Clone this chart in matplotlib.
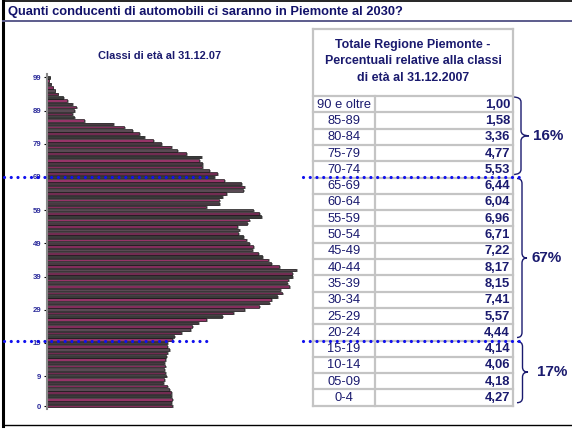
import numpy as np
import matplotlib.pyplot as plt
from matplotlib.path import Path
from matplotlib.patches import PathPatch

plt.rcParams['font.family'] = ['Liberation Sans', 'DejaVu Sans']

# ---- data -------------------------------------------------------------
ages = np.arange(0, 100)
pop = [125, 124, 125, 124, 124, 122, 120, 116, 117, 119,
       118, 117, 118, 117, 118, 119, 120, 122, 120, 120,
       125, 127, 134, 143, 145, 151, 159, 175, 186, 197,
       212, 222, 224, 230, 235, 233, 242, 240, 241, 245,
       245, 249, 232, 224, 221, 215, 211, 205, 206, 202,
       199, 196, 191, 192, 190, 200, 202, 214, 212, 206,
       159, 172, 172, 175, 179, 196, 197, 194, 177, 167,
       170, 162, 155, 155, 152, 154, 139, 130, 124, 114,
       106, 97, 92, 85, 77, 66, 37, 27, 25, 27,
       29, 25, 20, 16, 11, 8, 6, 4, 2, 3]
age_ticks = [0, 9, 19, 29, 39, 49, 59, 69, 79, 89, 99]

classes = ['90 e oltre', '85-89', '80-84', '75-79', '70-74',
           '65-69', '60-64', '55-59', '50-54', '45-49',
           '40-44', '35-39', '30-34', '25-29', '20-24',
           '15-19', '10-14', '05-09', '0-4']
perc = [1.00, 1.58, 3.36, 4.77, 5.53,
        6.44, 6.04, 6.96, 6.71, 7.22,
        8.17, 8.15, 7.41, 5.57, 4.44,
        4.14, 4.06, 4.18, 4.27]
groups = ['16%', '67%', '17%']
group_rows = [(0, 4), (5, 14), (15, 18)]

navy = '#1a1a6e'
W, H = 572, 430

fig = plt.figure(figsize=(W / 100, H / 100), dpi=100)
bg = fig.add_axes([0, 0, 1, 1])
bg.set_xlim(0, W)
bg.set_ylim(H, 0)
bg.axis('off')

# frame and title
bg.plot([3, 3], [0, 426], color='black', lw=2.2)
bg.plot([3, W], [0.8, 0.8], color='black', lw=1.2)
bg.plot([3, W], [425, 425], color='black', lw=1.0)
bg.plot([3, W], [21, 21], color='#5c5c8c', lw=1.4)
bg.text(8, 11.5, 'Quanti conducenti di automobili ci saranno in Piemonte al 2030?',
        fontsize=9.3, fontweight='bold', color='#12126a', va='center', ha='left')

# pyramid title
bg.text(160, 56, 'Classi di età al 31.12.07', fontsize=7.9, fontweight='bold',
        color=navy, ha='center', va='center')

# ---- pyramid ----------------------------------------------------------
y0, y1 = 408.7, 74.0
pa = fig.add_axes([47 / W, 1 - y0 / H, 260 / W, (y0 - y1) / H])
pa.set_xlim(0, 260)
pa.set_ylim(-0.8, 100)
pa.patch.set_visible(False)
shades = ['#832d5c', '#4a3842', '#963468', '#3a3a3a', '#722c52', '#5a4a54']
cols = [shades[i % len(shades)] for i in range(len(ages))]
pa.barh(ages - 0.22, np.array(pop) + 1.5, height=0.8, color='#a8a8a8', zorder=1)
pa.barh(ages, pop, height=0.78, color=cols, edgecolor='#111111', lw=0.45, zorder=2)
for s in ['top', 'right', 'bottom']:
    pa.spines[s].set_visible(False)
pa.spines['left'].set_color('#8a8a8a')
pa.spines['left'].set_linewidth(1.5)
pa.set_xticks([])
pa.set_yticks(age_ticks)
pa.set_yticklabels([str(a) for a in age_ticks], fontsize=5.6, fontweight='bold', color='#2a2a9a')
pa.tick_params(axis='y', length=2.5, width=0.8, pad=1.5)

# ---- table ------------------------------------------------------------
tl, tr, tc = 313, 513, 375
top, row0, rh = 29, 96, 16.3
grey = '#c4c4c4'
nrows = len(classes)
bottom = row0 + nrows * rh
bg.plot([tl, tr], [top, top], color=grey, lw=1.6)
bg.plot([tl, tl], [top, bottom], color=grey, lw=1.6)
bg.plot([tr, tr], [top, bottom], color=grey, lw=1.6)
bg.plot([tc, tc], [row0, bottom], color=grey, lw=1.6)
for i in range(nrows + 1):
    bg.plot([tl, tr], [row0 + i * rh] * 2, color=grey, lw=1.6)
bg.text((tl + tr) / 2, 61.5,
        'Totale Regione Piemonte -\nPercentuali relative alla classi\ndi età al 31.12.2007',
        fontsize=8.9, fontweight='bold', color=navy, ha='center', va='center',
        linespacing=1.45)
for i, (c, p) in enumerate(zip(classes, perc)):
    yc = row0 + (i + 0.5) * rh + 0.5
    bg.text((tl + tc) / 2, yc, c, fontsize=9.3, color=navy, ha='center', va='center')
    bg.text(tr - 3, yc, f'{p:.2f}'.replace('.', ','), fontsize=9.4, fontweight='bold',
            color=navy, ha='right', va='center')


def brace(ax, x, ya, yb, w, r=5):
    ym = (ya + yb) / 2
    xm = x + w / 2
    verts = [(x, ya), (xm, ya), (xm, ya + r), (xm, ym - r), (xm, ym), (x + w, ym),
             (xm, ym), (xm, ym + r), (xm, yb - r), (xm, yb), (x, yb)]
    codes = [Path.MOVETO, Path.CURVE3, Path.CURVE3, Path.LINETO, Path.CURVE3, Path.CURVE3,
             Path.CURVE3, Path.CURVE3, Path.LINETO, Path.CURVE3, Path.CURVE3]
    ax.add_patch(PathPatch(Path(verts, codes), fill=False, ec=navy, lw=1.0))
    return ym


brace_x = [513, 517, 517]
brace_w = [16, 10, 11]
text_x = [533, 531.5, 536.5]
for g, (ra, rb), bx, bw, tx in zip(groups, group_rows, brace_x, brace_w, text_x):
    ya = row0 + ra * rh + 1
    yb = row0 + (rb + 1) * rh - 3
    ym = brace(bg, bx, ya, yb, bw)
    bg.text(tx, ym, g, fontsize=11, fontweight='bold', color=navy, ha='left', va='center')

# ---- dotted separators ----------------------------------------------
top_ax = fig.add_axes([0, 0, 1, 1], zorder=5)
top_ax.set_xlim(0, W)
top_ax.set_ylim(H, 0)
top_ax.axis('off')
for yl in [176.5, 340.5]:
    for xa, xb in [(4, 212), (303, 521)]:
        top_ax.plot([xa, xb], [yl, yl], color='#1010ee', lw=2.3,
                    ls=(0, (0.01, 2.1)), dash_capstyle='round')

fig.savefig('out.png', dpi=100)
